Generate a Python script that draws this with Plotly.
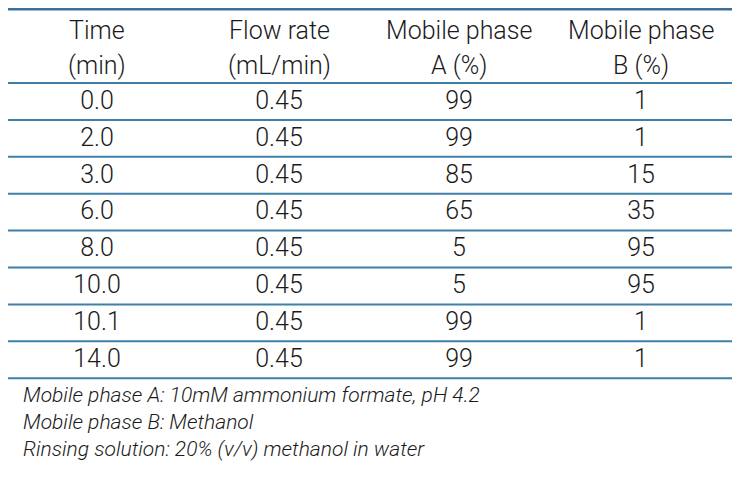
import plotly.graph_objects as go

headers_line1 = ["Time", "Flow rate", "Mobile phase", "Mobile phase"]
headers_line2 = ["(min)", "(mL/min)", "A (%)", "B (%)"]
time_min = ["0.0", "2.0", "3.0", "6.0", "8.0", "10.0", "10.1", "14.0"]
flow_rate = ["0.45"] * 8
phase_a = [99, 99, 85, 65, 5, 5, 99, 99]
phase_b = [1, 1, 15, 35, 95, 95, 1, 1]
footnotes = [
    "Mobile phase A: 10mM ammonium formate, pH 4.2",
    "Mobile phase B: Methanol",
    "Rinsing solution: 20% (v/v) methanol in water",
]

# page has default 8px body margin on every side; keep the figure inside the
# window and map axis units to page pixels
PAGE_W, PAGE_H = 750, 483
OFF = 8
FIG_W = PAGE_W - 2 * OFF
FIG_H = PAGE_H - 2 * OFF
col_x = [97, 279, 459, 641]
x_left, x_right = 7, 732
top_y = 9
header_bottom = 83
header_y = [30, 65]
row_h = 36.9
foot_x, foot_y0, foot_dy = 21, 395, 27
FONT = "Roboto"
TXT = "#1a1a1a"
LINE = "#3f7fa8"
FS = 25

fig = go.Figure()
columns = [time_min, flow_rate, [str(v) for v in phase_a], [str(v) for v in phase_b]]
for ci, col in enumerate(columns):
    ys = [header_bottom + row_h * (i + 0.5) + 1 for i in range(len(col))]
    fig.add_trace(go.Scatter(
        x=[col_x[ci]] * len(col), y=ys, mode="text", text=col,
        textfont=dict(family=FONT, size=FS, color=TXT, weight=300),
        textposition="middle center", hoverinfo="skip", showlegend=False,
    ))

# top rule drawn as a line trace (not clipped at the plot edge)
fig.add_trace(go.Scatter(
    x=[x_left, x_right], y=[top_y, top_y], mode="lines",
    line=dict(color="#3b7098", width=3), hoverinfo="skip", showlegend=False,
    cliponaxis=False,
))

annotations = []
for li, line in enumerate([headers_line1, headers_line2]):
    for ci, h in enumerate(line):
        annotations.append(dict(
            x=col_x[ci], y=header_y[li], xref="x", yref="y",
            text=h, showarrow=False, xanchor="center", yanchor="middle",
            font=dict(family=FONT, size=FS, color=TXT, weight=300), align="center",
        ))
for i, t in enumerate(footnotes):
    annotations.append(dict(
        x=foot_x, y=foot_y0 + foot_dy * i, xref="x", yref="y",
        text=f"<i>{t}</i>", showarrow=False, xanchor="left", yanchor="middle",
        font=dict(family=FONT, size=21, color=TXT, weight=300), align="left",
    ))

shapes = []
for i in range(len(time_min) + 1):
    y = header_bottom + row_h * i
    shapes.append(dict(type="line", x0=x_left, x1=x_right, y0=y, y1=y, xref="x", yref="y",
                       line=dict(color=LINE, width=2)))

fig.update_layout(
    width=FIG_W, height=FIG_H, margin=dict(l=0, r=0, t=0, b=0),
    paper_bgcolor="white", plot_bgcolor="white",
    xaxis=dict(range=[OFF, OFF + FIG_W], visible=False, fixedrange=True),
    yaxis=dict(range=[OFF + FIG_H, OFF], visible=False, fixedrange=True),
    annotations=annotations, shapes=shapes,
)
fig.write_html("out.html", config={"displayModeBar": False})
